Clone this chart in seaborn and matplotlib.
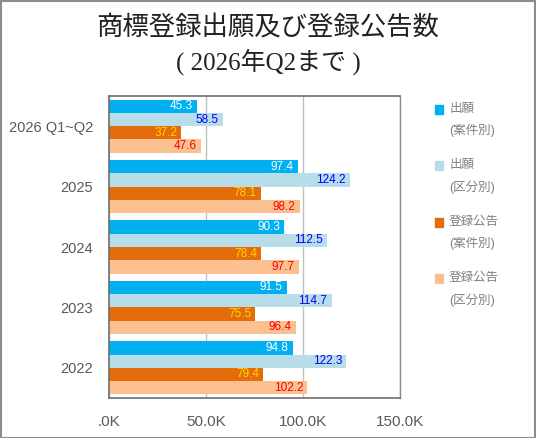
import matplotlib
matplotlib.use("Agg")
import matplotlib.pyplot as plt
import matplotlib.patches as mpatches
from matplotlib.legend_handler import HandlerPatch
import seaborn as sns
import pandas as pd

categories = ['2026 Q1~Q2', '2025', '2024', '2023', '2022']
series_names = ['出願\n(案件別)', '出願\n(区分別)', '登録公告\n(案件別)', '登録公告\n(区分別)']
app_cases = [45.3, 97.4, 90.3, 91.5, 94.8]
app_classes = [58.5, 124.2, 112.5, 114.7, 122.3]
reg_cases = [37.2, 78.1, 78.4, 75.5, 79.4]
reg_classes = [47.6, 98.2, 97.7, 96.4, 102.2]
x_ticks = [0, 50, 100, 150]
x_tick_labels = ['.0K', '50.0K', '100.0K', '150.0K']

colors = ['#00b0f0', '#b7dde8', '#e46c0a', '#fac090']
label_colors = ['#ffffff', '#0000ff', '#ffd700', '#ff0000']

sns.set_theme(style='white')
plt.rcParams['font.family'] = ['Liberation Sans', 'Noto Sans CJK JP', 'DejaVu Sans']

rows = []
for name, vals in zip(series_names, [app_cases, app_classes, reg_cases, reg_classes]):
    for c, v in zip(categories, vals):
        rows.append({'category': c, 'series': name, 'value': v})
df = pd.DataFrame(rows)

fig = plt.figure(figsize=(5.36, 4.38), dpi=100)
ax = fig.add_axes([0.2034, 0.0913, 0.5429, 0.6895])

sns.barplot(data=df, y='category', x='value', hue='series', order=categories,
            hue_order=series_names, palette=colors, orient='h', width=0.88,
            saturation=1, ax=ax, legend=False, linewidth=0, edgecolor='none')

for cont, lc in zip(ax.containers, label_colors):
    for p in cont:
        w = p.get_width()
        ax.annotate(f'{w:.1f}', (p.get_x() + w, p.get_y() + p.get_height() / 2),
                    xytext=(-3, 0), textcoords='offset points', ha='right', va='center',
                    color=lc, fontsize=8.5)

ax.set_xlim(0, 150)
ax.set_xticks(x_ticks)
ax.set_xticklabels(x_tick_labels)
ax.set_xlabel('')
ax.set_ylabel('')
ax.tick_params(axis='x', colors='#595959', labelsize=11, pad=12, length=0)
ax.tick_params(axis='y', colors='#595959', labelsize=10.5, pad=11.5, length=0)
ax.xaxis.grid(True, color='#c0c0c0', linewidth=1)
ax.set_axisbelow(True)
for s in ['left', 'bottom', 'top']:
    ax.spines[s].set_color('#6e6e6e')
    ax.spines[s].set_linewidth(1.2)
ax.spines['right'].set_color('#8c8c8c')
ax.spines['right'].set_linewidth(1)


def top_square(legend, orig_handle, xdescent, ydescent, width, height, fontsize):
    return mpatches.Rectangle((-xdescent, -ydescent + 0.88 * fontsize), width, height)


handles = [mpatches.Patch(color=c) for c in colors]
leg = fig.legend(handles, series_names, loc='upper left', bbox_to_anchor=(0.79, 0.79),
                 frameon=False, fontsize=9, handlelength=0.7, handleheight=0.7,
                 handletextpad=0.45, labelspacing=1.75, labelcolor='#808080',
                 handler_map={mpatches.Patch: HandlerPatch(patch_func=top_square)})
for t in leg.get_texts():
    t.set_linespacing(1.9)

fig.text(0.5, 0.937, '商標登録出願及び登録公告数', ha='center', va='center', fontsize=19,
         family=['Liberation Serif', 'Noto Sans CJK JP'], color='#222222')
fig.text(0.5, 0.858, '( 2026年Q2まで )', ha='center', va='center', fontsize=18,
         family=['Liberation Serif', 'Noto Sans CJK JP'], color='#222222')

fig.patches.append(mpatches.Rectangle((0.001, 0.001), 0.997, 0.997, transform=fig.transFigure,
                                      fill=False, edgecolor='#8c8c8c', linewidth=1.5))

fig.savefig('out.png', dpi=100)
